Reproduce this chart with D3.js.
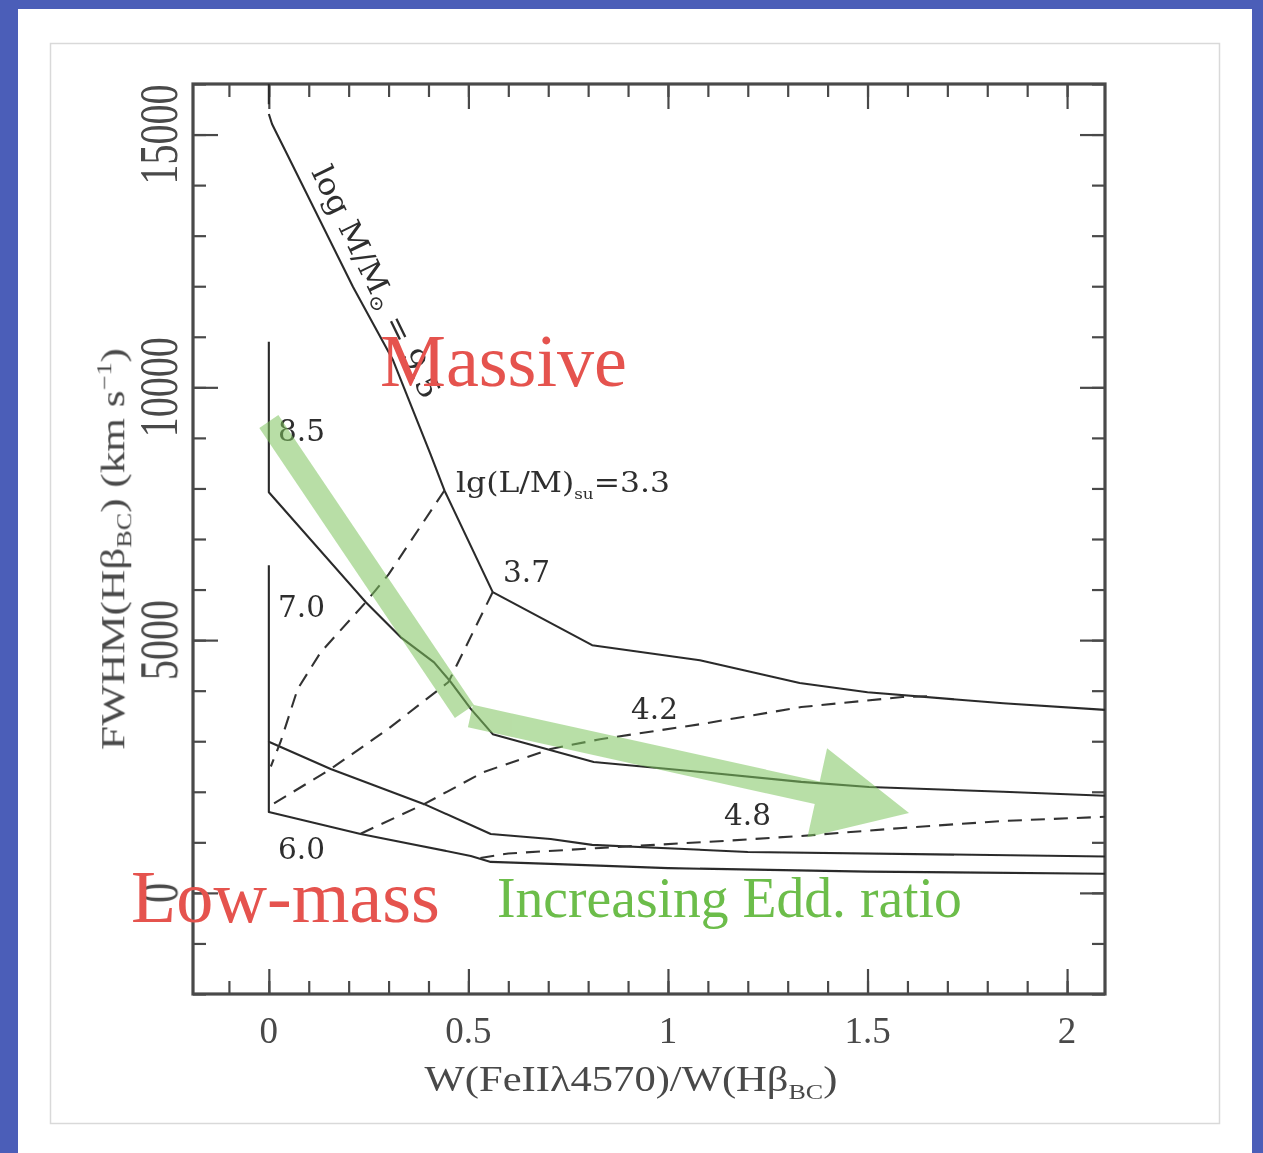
<!DOCTYPE html>
<html>
<head>
<meta charset="utf-8">
<script src="https://cdn.jsdelivr.net/npm/d3@7"></script>
<style>
  html, body { margin: 0; padding: 0; background: #4b5eb8; }
  svg { display: block; }
</style>
</head>
<body>
<svg id="chart" width="1263" height="1153"></svg>
<script>
// ---- axis ticks ----
const xMajorValues = [0, 0.5, 1, 1.5, 2];
const xMajorLabels = ["0", "0.5", "1", "1.5", "2"];
const yMajorValues = [0, 5000, 10000, 15000];
const yMajorLabels = ["0", "5000", "10000", "15000"];

// ---- constant black-hole mass tracks (solid), [W(FeII)/W(Hb), FWHM km/s] ----
const massTrackNames = ["9.5", "8.5", "7.0", "6.0"];
const track95Stub = [[0, 16000], [0, 15600]];
const track95 = [[0, 15406], [0.008, 15209], [0.0204, 15011], [0.0405, 14694], [0.211, 11985],
  [0.311, 10540], [0.404, 8700], [0.44, 7960], [0.561, 5950], [0.81, 4900],
  [1.08, 4600], [1.33, 4150], [1.5, 3970], [1.84, 3750], [2.095, 3620]];
const track85 = [[0, 10900], [0, 7925], [0.243, 5750], [0.33, 5060], [0.414, 4560],
  [0.456, 4170], [0.506, 3640], [0.561, 3140], [0.814, 2590], [1.084, 2390], [1.334, 2195],
  [1.504, 2095], [1.84, 2000], [2.095, 1920]];
const track70 = [[0, 6480], [0, 2990], [0.155, 2450], [0.388, 1760], [0.556, 1166],
  [0.706, 1067], [0.81, 950], [1.2, 810], [2.095, 720]];
const track60 = [[0, 2990], [0, 1600], [0.23, 1166], [0.506, 731], [0.556, 613],
  [0.706, 573], [1.0, 490], [1.5, 420], [2.095, 380]];

// ---- constant L/M lines (dashed) ----
const lmNames = ["3.3", "3.7", "4.2", "4.8"];
const lm33 = [[0.44, 7960], [0.3, 6300], [0.243, 5750], [0.13, 4760], [0.072, 4030],
  [0.03, 3000], [0.005, 2500]];
const lm37 = [[0.561, 5950], [0.45, 4170], [0.3, 3250], [0.155, 2450], [0.005, 1730]];
const lm42 = [[0.23, 1170], [0.39, 1760], [0.538, 2390], [0.706, 2846], [0.83, 3040],
  [1.084, 3340], [1.334, 3676], [1.587, 3874], [1.65, 3890]];
const lm48 = [[0.53, 690], [0.6, 780], [0.831, 889], [1.14, 1028], [1.334, 1126],
  [1.587, 1285], [1.84, 1423], [2.095, 1505]];

// ---- highlighted trend (two legs of the green arrow) ----
const eddArrowLeg1 = [[0.0, 9324], [0.49, 3588]];
const eddArrowLeg2 = [[0.505, 3499], [1.604, 1580]];

const W = 1263, H = 1153;
const svg = d3.select("#chart");

// slide background
svg.append("rect").attr("width", W).attr("height", H).attr("fill", "#4b5eb8");
svg.append("rect").attr("x", 18).attr("y", 9).attr("width", 1234).attr("height", H - 9).attr("fill", "#ffffff");
svg.append("rect").attr("x", 50.5).attr("y", 43.5).attr("width", 1169).attr("height", 1080)
  .attr("fill", "#ffffff").attr("stroke", "#d9d9d9").attr("stroke-width", 1.5);

const defs = svg.append("defs");
defs.append("filter").attr("id", "soft").attr("filterUnits", "userSpaceOnUse")
  .attr("x", 0).attr("y", 0).attr("width", W).attr("height", H)
  .append("feGaussianBlur").attr("stdDeviation", 0.75);

const x = d3.scaleLinear().domain([-0.19, 2.095]).range([193, 1105]);
const y = d3.scaleLinear().domain([-2000, 16000]).range([994, 84]);

const plot = svg.append("g").attr("filter", "url(#soft)");

// text helper: builds a text from parts and stretches it to a given width
function addText(parent, o) {
  const t = parent.append("text")
    .attr("font-family", o.family)
    .attr("font-size", o.size)
    .attr("fill", o.fill)
    .attr("text-anchor", o.anchor || "start");
  o.parts.forEach(p => {
    const s = t.append("tspan").text(p.t);
    if (p.size) s.attr("font-size", p.size);
    if (p.dy) s.attr("dy", p.dy);
  });
  let sx = 1;
  if (o.width) {
    const w = t.node().getComputedTextLength();
    if (w > 0) sx = o.width / w;
  }
  t.attr("transform", `translate(${o.x},${o.y}) rotate(${o.rot || 0}) scale(${sx},${o.sy || 1})`);
  return t;
}

// ---- axes: ticks on all four sides, pointing inward ----
const axisColor = "#4a4a4a";
function styleAxis(sel) {
  sel.select(".domain").remove();
  sel.selectAll(".tick line").attr("stroke", axisColor).attr("stroke-width", 2.2);
  sel.selectAll(".tick text").remove();
}
const xMinor = x.ticks(20);
const yMinor = y.ticks(18);
const axes = [
  [d3.axisBottom, x, `translate(0,${y.range()[0]})`, xMinor, xMajorValues],
  [d3.axisTop, x, `translate(0,${y.range()[1]})`, xMinor, xMajorValues],
  [d3.axisLeft, y, `translate(${x.range()[0]},0)`, yMinor, yMajorValues],
  [d3.axisRight, y, `translate(${x.range()[1]},0)`, yMinor, yMajorValues]
];
axes.forEach(([fn, sc, tr, minor, major]) => {
  plot.append("g").attr("transform", tr)
    .call(fn(sc).tickValues(minor).tickSizeInner(-13).tickSizeOuter(0).tickFormat(""))
    .call(styleAxis);
  plot.append("g").attr("transform", tr)
    .call(fn(sc).tickValues(major).tickSizeInner(-25).tickSizeOuter(0).tickFormat(""))
    .call(styleAxis);
});

// frame
plot.append("rect")
  .attr("x", x.range()[0]).attr("y", y.range()[1])
  .attr("width", x.range()[1] - x.range()[0]).attr("height", y.range()[0] - y.range()[1])
  .attr("fill", "none").attr("stroke", axisColor).attr("stroke-width", 3.2);

// tick labels
const tickFont = "'Liberation Serif', 'Times New Roman', serif";
const labelGrey = "#484848";
xMajorValues.forEach((v, i) => {
  addText(plot, { x: x(v), y: 1043, size: 37, family: tickFont, fill: labelGrey,
    anchor: "middle", parts: [{ t: xMajorLabels[i] }] });
});
yMajorValues.forEach((v, i) => {
  addText(plot, { x: 177, y: y(v), rot: -90, size: 40, sy: 1.35, family: tickFont,
    fill: labelGrey, anchor: "middle", parts: [{ t: yMajorLabels[i] }] });
});

// axis titles
addText(plot, { x: 631, y: 1091, size: 36, family: tickFont, fill: labelGrey, anchor: "middle",
  width: 413,
  parts: [{ t: "W(FeIIλ4570)/W(Hβ" }, { t: "BC", size: 22, dy: 8 }, { t: ")", dy: -8 }] });
addText(plot, { x: 124, y: 549, rot: -90, size: 33, sy: 1.05, family: tickFont, fill: labelGrey,
  anchor: "middle", width: 402,
  parts: [{ t: "FWHM(Hβ" }, { t: "BC", size: 20, dy: 7 }, { t: ") (km s", dy: -7 },
          { t: "−1", size: 20, dy: -12 }, { t: ")", dy: 12 }] });

// ---- curves ----
const line = d3.line().x(d => x(d[0])).y(d => y(d[1]));
const tracks = [track95Stub, track95, track85, track70, track60];
plot.selectAll("path.track").data(tracks).enter().append("path")
  .attr("class", "track").attr("d", line)
  .attr("fill", "none").attr("stroke", "#2b2b2b").attr("stroke-width", 2.1)
  .attr("stroke-linejoin", "round");
const lmLines = [lm33, lm37, lm42, lm48];
plot.selectAll("path.lm").data(lmLines).enter().append("path")
  .attr("class", "lm").attr("d", line)
  .attr("fill", "none").attr("stroke", "#333333").attr("stroke-width", 2.1)
  .attr("stroke-dasharray", "14,9");

// curve labels
const curveFont = "'DejaVu Serif', 'Liberation Serif', serif";
const numLabels = [
  { t: massTrackNames[1], px: 278, py: 441 },
  { t: massTrackNames[2], px: 278, py: 617 },
  { t: massTrackNames[3], px: 278, py: 859 },
  { t: lmNames[1], px: 503, py: 582 },
  { t: lmNames[2], px: 631, py: 719 },
  { t: lmNames[3], px: 724, py: 825 }
];
numLabels.forEach(l => {
  addText(plot, { x: l.px, y: l.py, size: 30, family: curveFont, fill: "#2e2e2e",
    width: 47, parts: [{ t: l.t }] });
});
addText(plot, { x: 456, y: 492, size: 28, family: curveFont, fill: "#2e2e2e", width: 214,
  parts: [{ t: "lg(L/M)" }, { t: "su", size: 15, dy: 7 }, { t: "=" + lmNames[0], dy: -7 }] });
addText(plot, { x: 311, y: 172, rot: 64, size: 30, family: curveFont, fill: "#2e2e2e", width: 255,
  parts: [{ t: "log M/M" }, { t: "⊙", size: 19, dy: 5 }, { t: " = " + massTrackNames[0], dy: -5 }] });

// ---- overlay: trend arrow ----
const arrow = svg.append("g").attr("opacity", 0.55);
const green = "#7ec45e";
const p1a = [x(eddArrowLeg1[0][0]), y(eddArrowLeg1[0][1])];
const p1b = [x(eddArrowLeg1[1][0]), y(eddArrowLeg1[1][1])];
arrow.append("line").attr("x1", p1a[0]).attr("y1", p1a[1]).attr("x2", p1b[0]).attr("y2", p1b[1])
  .attr("stroke", green).attr("stroke-width", 23).attr("stroke-linecap", "butt");
const p2a = [x(eddArrowLeg2[0][0]), y(eddArrowLeg2[0][1])];
const tip = [x(eddArrowLeg2[1][0]), y(eddArrowLeg2[1][1])];
const dx = tip[0] - p2a[0], dy = tip[1] - p2a[1], len = Math.hypot(dx, dy);
const ux = dx / len, uy = dy / len, nx = -uy, ny = ux;
const headLen = 94, headHalf = 45.5, bodyHalf = 11.5;
const base = [tip[0] - ux * headLen, tip[1] - uy * headLen];
const arrowPts = [
  [p2a[0] + nx * bodyHalf, p2a[1] + ny * bodyHalf],
  [base[0] + nx * bodyHalf, base[1] + ny * bodyHalf],
  [base[0] + nx * headHalf, base[1] + ny * headHalf],
  tip,
  [base[0] - nx * headHalf, base[1] - ny * headHalf],
  [base[0] - nx * bodyHalf, base[1] - ny * bodyHalf],
  [p2a[0] - nx * bodyHalf, p2a[1] - ny * bodyHalf]
];
arrow.append("path").attr("d", "M" + arrowPts.map(p => p.join(",")).join("L") + "Z")
  .attr("fill", green);

// ---- overlay: annotations ----
const noteFont = "'Liberation Serif', 'Times New Roman', serif";
addText(svg, { x: 380, y: 386, size: 74, family: noteFont, fill: "#e5534e", width: 247,
  parts: [{ t: "Massive" }] });
addText(svg, { x: 131, y: 922, size: 74, family: noteFont, fill: "#e5534e", width: 309,
  parts: [{ t: "Low-mass" }] });
addText(svg, { x: 497, y: 917, size: 56, family: noteFont, fill: "#6cbd4a", width: 465,
  parts: [{ t: "Increasing Edd. ratio" }] });
</script>
</body>
</html>
